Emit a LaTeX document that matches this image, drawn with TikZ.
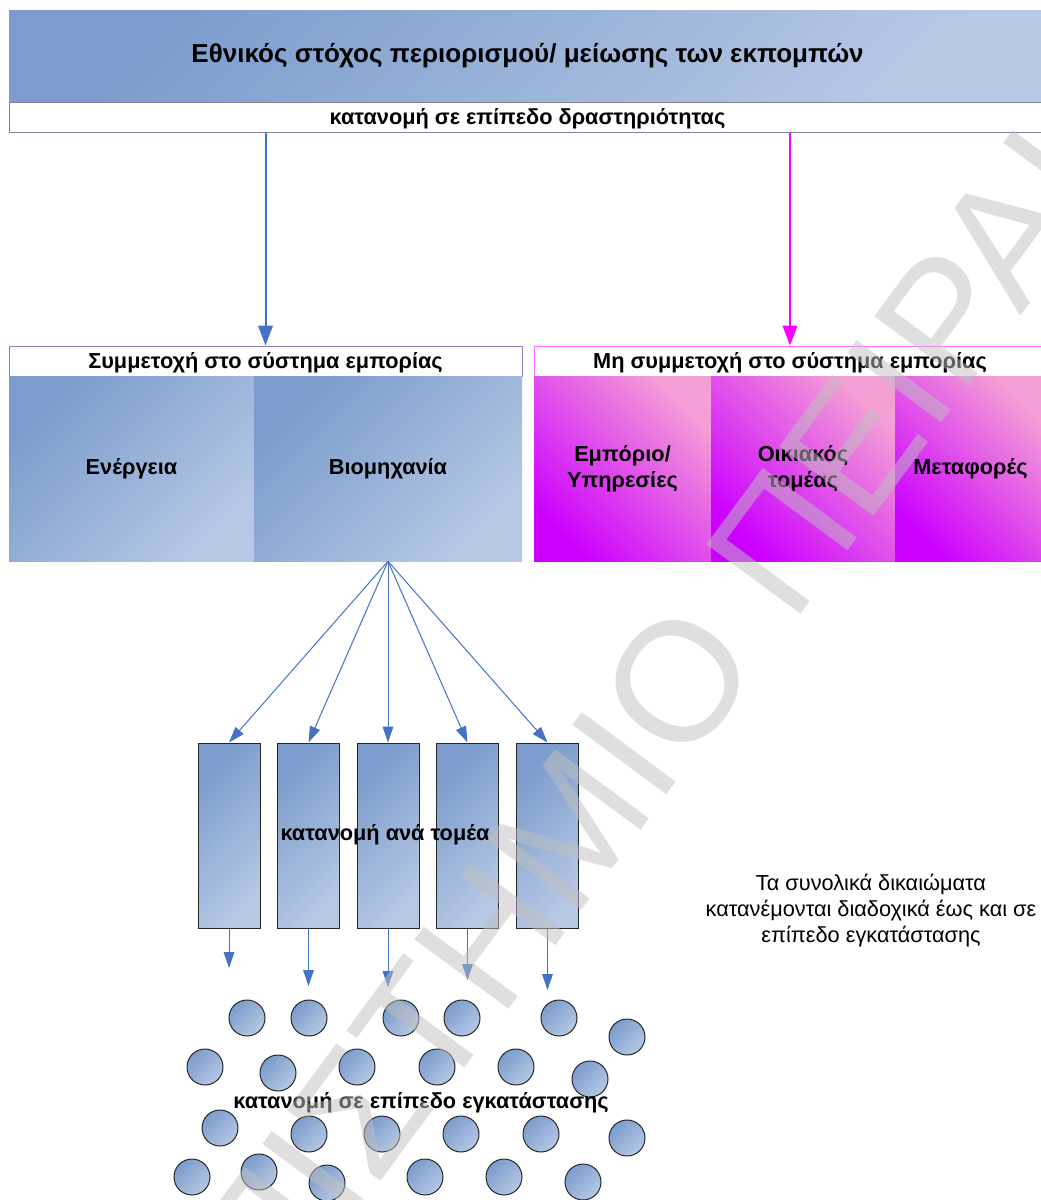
\documentclass[tikz,border=0pt]{standalone}
\usepackage{fontspec}
\setmainfont{Liberation Sans}
\usetikzlibrary{arrows.meta}
\definecolor{blueA}{HTML}{7B9CCC}
\definecolor{blueB}{HTML}{B6C8E4}
\definecolor{pinkA}{HTML}{CC00FF}
\definecolor{pinkB}{HTML}{F4A0D6}
\definecolor{arrowblue}{HTML}{4472C4}
\definecolor{arrowpink}{HTML}{FF00FF}
\definecolor{hdrblue}{HTML}{8585C2}
\definecolor{hdrpink}{HTML}{FF66FF}
\definecolor{stripgray}{HTML}{7F7F9F}
\definecolor{wmgray}{HTML}{C0C0C0}

\begin{document}
\begin{tikzpicture}[x=0.75pt, y=-0.75pt,
  lbl/.style={font=\fontsize{16.3}{19.5}\selectfont\bfseries, align=center},
  bluepanel/.style={top color=blueA, bottom color=blueB, shading angle=45, inner sep=0pt, lbl},
  pinkpanel/.style={top color=pinkB, bottom color=pinkA, shading angle=-45, inner sep=0pt, lbl},
  hdrbox/.style={draw, fill=white, line width=0.75pt, inner sep=0pt, minimum height=22.5pt, text height=15pt, text depth=3.5pt, lbl},
  sectorbox/.style={draw=black!85, line width=0.75pt, top color=blueA, bottom color=blueB, shading angle=45, minimum width=46.5pt, minimum height=138.75pt, inner sep=0pt},
  plant/.style={circle, draw=black!85, line width=0.75pt, top color=blueA, bottom color=blueB, shading angle=45, minimum size=27pt, inner sep=0pt},
  bigarrow/.style={line width=1.5pt, -{Triangle[width=11pt,length=15pt]}},
  fanarrow/.style={draw=arrowblue, line width=0.75pt, -{Triangle[width=8pt,length=12pt]}}
]
\useasboundingbox[fill=white] (0,0) rectangle (1040,1200);

\node[bluepanel, minimum width=777.75pt, minimum height=69pt, font=\fontsize{19.5}{22}\selectfont\bfseries] (target) at (527.5,56) {Εθνικός στόχος περιορισμού/ μείωσης των εκπομπών};
\node[hdrbox, draw=stripgray, minimum width=777.75pt] (activity) at (527.5,117) {κατανομή σε επίπεδο δραστηριότητας};

\node[hdrbox, draw=hdrblue, minimum width=384.75pt] (etsin) at (265.5,361) {Συμμετοχή στο σύστημα εμπορίας};
\node[hdrbox, draw=hdrpink, minimum width=384pt] (etsout) at (790,361) {Μη συμμετοχή στο σύστημα εμπορίας};

\draw[bigarrow, arrowblue] (activity.south -| etsin.north) -- (etsin.north);
\draw[bigarrow, arrowpink] (activity.south -| etsout.north) -- (etsout.north);

\node[bluepanel, minimum width=183.75pt, minimum height=138.75pt] (energy) at (131.5,468.5) {Ενέργεια};
\node[bluepanel, minimum width=201pt, minimum height=138.75pt] (industry) at (388,468.5) {Βιομηχανία};
\node[pinkpanel, minimum width=132.75pt, minimum height=138.75pt] (trade) at (622.5,468.5) {Εμπόριο/\\Υπηρεσίες};
\node[pinkpanel, minimum width=138pt, minimum height=138.75pt] (house) at (803,468.5) {Οικιακός\\τομέας};
\node[pinkpanel, minimum width=113.25pt, minimum height=138.75pt] (transport) at (970.5,468.5) {Μεταφορές};

\node[sectorbox] (s1) at (229,835.5) {};
\node[sectorbox] (s2) at (308.5,835.5) {};
\node[sectorbox] (s3) at (388,835.5) {};
\node[sectorbox] (s4) at (467.5,835.5) {};
\node[sectorbox] (s5) at (547.5,835.5) {};

\draw[fanarrow] (industry.south) -- (s1.north);
\draw[fanarrow] (industry.south) -- (s2.north);
\draw[fanarrow] (industry.south) -- (s3.north);
\draw[fanarrow] (industry.south) -- (s4.north);
\draw[fanarrow] (industry.south) -- (s5.north);

\node[lbl] (bysector) at (385,835) {κατανομή ανά τομέα};

\coordinate (e1) at (229,968);
\coordinate (e2) at (308.5,986);
\coordinate (e3) at (388,987);
\coordinate (e4) at (467.5,980);
\coordinate (e5) at (547.5,990);
\draw[fanarrow] (s1.south) -- (e1);
\draw[fanarrow] (s2.south) -- (e2);
\draw[fanarrow] (s3.south) -- (e3);
\draw[fanarrow] (s4.south) -- (e4);
\draw[fanarrow] (s5.south) -- (e5);

\node[plant] (p1) at (247,1018) {};
\node[plant] (p2) at (309,1018) {};
\node[plant] (p3) at (401,1018) {};
\node[plant] (p4) at (462,1018) {};
\node[plant] (p5) at (559,1018) {};
\node[plant] (p6) at (627,1037) {};
\node[plant] (p7) at (205,1067) {};
\node[plant] (p8) at (278,1073) {};
\node[plant] (p9) at (357,1067) {};
\node[plant] (p10) at (437,1067) {};
\node[plant] (p11) at (516,1067) {};
\node[plant] (p12) at (590,1079) {};
\node[plant] (p13) at (220,1128) {};
\node[plant] (p14) at (309,1134) {};
\node[plant] (p15) at (382,1134) {};
\node[plant] (p16) at (461,1134) {};
\node[plant] (p17) at (541,1134) {};
\node[plant] (p18) at (627,1138) {};
\node[plant] (p19) at (192,1177) {};
\node[plant] (p20) at (259,1172) {};
\node[plant] (p21) at (327,1183) {};
\node[plant] (p22) at (425,1177) {};
\node[plant] (p23) at (504,1177) {};
\node[plant] (p24) at (583,1182) {};

\node[lbl] (byplant) at (421,1103) {κατανομή σε επίπεδο εγκατάστασης};

\node[align=center, font=\fontsize{16.3}{19.5}\selectfont] (note) at (871,911) {Τα συνολικά δικαιώματα\\κατανέμονται διαδοχικά έως και σε\\επίπεδο εγκατάστασης};

\node[text=wmgray, text opacity=0.5, rotate=53.5, inner sep=0pt, font=\fontsize{127.5}{127.5}\selectfont] (watermark) at (577,818) {ΠΑΝΕΠΙΣΤΗΜΙΟ ΠΕΙΡΑΙΩΣ};
\end{tikzpicture}
\end{document}
